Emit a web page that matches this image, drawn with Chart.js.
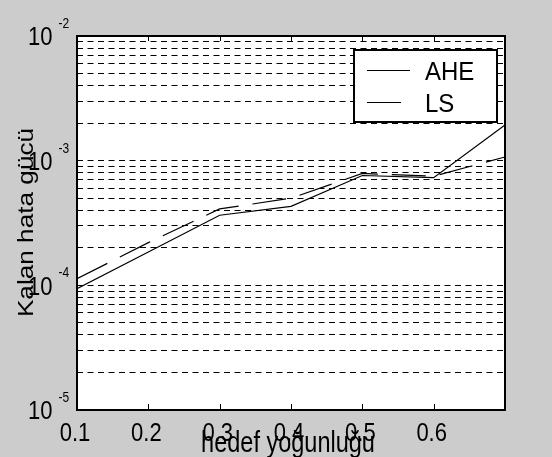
<!DOCTYPE html>
<html>
<head>
<meta charset="utf-8">
<script src="https://cdn.jsdelivr.net/npm/chart.js@4/dist/chart.umd.min.js"></script>
<style>
  body { margin: 0; background: #cccccc; }
  #wrap { width: 552px; height: 457px; }
</style>
</head>
<body>
<div id="wrap"><canvas id="errChart" width="552" height="457"></canvas></div>
<script>
// hedef yogunlugu (x) values
var densities = [0.1, 0.2, 0.3, 0.4, 0.5, 0.6, 0.7];
// residual error power
var aheValues = [9.4e-5, 1.85e-4, 3.65e-4, 4.3e-4, 7.6e-4, 7.3e-4, 1.93e-3];
var lsValues = [1.13e-4, 2.2e-4, 4.1e-4, 5.0e-4, 7.9e-4, 7.5e-4, 1.07e-3];

var xTickLabels = [0.1, 0.2, 0.3, 0.4, 0.5, 0.6];
var yDecades = [1e-5, 1e-4, 1e-3, 1e-2];
var yDecadeExp = ['-5', '-4', '-3', '-2'];
var gridSteps = [1, 2, 3, 4, 5, 6, 7, 8, 9];

var FONT = '"Liberation Sans", Arial, sans-serif';

function toPoints(xs, ys) {
    return xs.map(function (x, i) { return { x: x, y: ys[i] }; });
}

// draws text stretched the way the old figure was scaled
function stretchedText(ctx, text, x, y, size, sx, sy, align) {
    ctx.save();
    ctx.translate(x, y);
    ctx.scale(sx, sy);
    ctx.font = size + 'px ' + FONT;
    ctx.textAlign = align;
    ctx.textBaseline = 'alphabetic';
    ctx.fillStyle = '#000';
    ctx.fillText(text, 0, 0);
    ctx.restore();
}

var figurePlugin = {
    id: 'figure',
    beforeDraw: function (chart) {
        var ctx = chart.ctx, a = chart.chartArea;
        ctx.save();
        ctx.fillStyle = '#cccccc';
        ctx.fillRect(0, 0, chart.width, chart.height);
        ctx.fillStyle = '#ffffff';
        ctx.fillRect(a.left, a.top, a.right - a.left, a.bottom - a.top);
        ctx.restore();
    },
    afterDraw: function (chart) {
        var ctx = chart.ctx, a = chart.chartArea;
        var xs = chart.scales.x, ys = chart.scales.y;

        // axes box
        ctx.save();
        ctx.strokeStyle = '#000';
        ctx.lineWidth = 2;
        ctx.strokeRect(a.left, a.top, a.right - a.left, a.bottom - a.top);

        // inward x ticks, bottom and top
        ctx.lineWidth = 1;
        ctx.beginPath();
        xTickLabels.forEach(function (v) {
            var px = Math.round(xs.getPixelForValue(v)) + 0.5;
            ctx.moveTo(px, a.bottom); ctx.lineTo(px, a.bottom - 6);
            ctx.moveTo(px, a.top); ctx.lineTo(px, a.top + 5);
        });
        ctx.stroke();
        ctx.restore();

        // x tick labels
        xTickLabels.forEach(function (v) {
            stretchedText(ctx, v.toFixed(1), xs.getPixelForValue(v) - 2, 440.5, 22, 1, 1.19, 'center');
        });

        // y decade labels 10^k
        yDecades.forEach(function (v, i) {
            var py = ys.getPixelForValue(v);
            stretchedText(ctx, '10', 52.5, py + 9.3, 22, 1, 1.19, 'right');
            stretchedText(ctx, yDecadeExp[i], 58.5, py - 8, 12, 1, 1.15, 'left');
        });

        // axis titles
        stretchedText(ctx, 'hedef yoğunluğu', 288, 451.5, 23.5, 1, 1.22, 'center');
        ctx.save();
        ctx.translate(33.3, 222.5);
        ctx.rotate(-Math.PI / 2);
        ctx.scale(1.19, 1);
        ctx.font = '22px ' + FONT;
        ctx.textAlign = 'center';
        ctx.textBaseline = 'alphabetic';
        ctx.fillStyle = '#000';
        ctx.fillText('Kalan hata gücü', 0, 0);
        ctx.restore();

        // legend box
        var lx = 354, ly = 50, lw = 143, lh = 72;
        ctx.save();
        ctx.fillStyle = '#fff';
        ctx.fillRect(lx, ly, lw, lh);
        ctx.strokeStyle = '#000';
        ctx.lineWidth = 2;
        ctx.strokeRect(lx, ly, lw, lh);
        ctx.restore();
        var rows = [70.5, 102.5];
        chart.data.datasets.forEach(function (ds, i) {
            ctx.save();
            ctx.strokeStyle = ds.borderColor;
            ctx.lineWidth = 1.2;
            ctx.setLineDash(ds.borderDash || []);
            ctx.beginPath();
            ctx.moveTo(367, rows[i]);
            ctx.lineTo(410, rows[i]);
            ctx.stroke();
            ctx.restore();
            stretchedText(ctx, ds.label, 425, rows[i] + 9.5, 24, 1, 1.06, 'left');
        });
    }
};

document.addEventListener('DOMContentLoaded', function () {
    var ctx = document.getElementById('errChart').getContext('2d');
    var errChart = new Chart(ctx, {
        type: 'line',
        data: {
            datasets: [{
                label: 'AHE',
                data: toPoints(densities, aheValues),
                borderColor: '#000000',
                borderWidth: 1.2,
                pointRadius: 0,
                tension: 0
            }, {
                label: 'LS',
                data: toPoints(densities, lsValues),
                borderColor: '#000000',
                borderWidth: 1.2,
                borderDash: [34, 14],
                pointRadius: 0,
                tension: 0
            }]
        },
        options: {
            responsive: false,
            animation: false,
            devicePixelRatio: 1,
            layout: { padding: { left: 77, top: 36, right: 47, bottom: 47 } },
            plugins: {
                legend: { display: false },
                tooltip: { enabled: false }
            },
            scales: {
                x: {
                    type: 'linear',
                    min: 0.1,
                    max: 0.7,
                    display: false
                },
                y: {
                    type: 'logarithmic',
                    min: 1e-5,
                    max: 1e-2,
                    ticks: { display: false },
                    grid: { color: '#000000', lineWidth: 1, drawTicks: false },
                    border: { display: false, dash: [6, 4.5] },
                    afterBuildTicks: function (scale) {
                        var t = [];
                        yDecades.slice(0, 3).forEach(function (d) {
                            gridSteps.forEach(function (s) { t.push({ value: s * d }); });
                        });
                        t.push({ value: 1e-2 });
                        scale.ticks = t;
                    },
                    afterFit: function (scale) { scale.width = 0; }
                }
            }
        },
        plugins: [figurePlugin]
    });
});
</script>
</body>
</html>
